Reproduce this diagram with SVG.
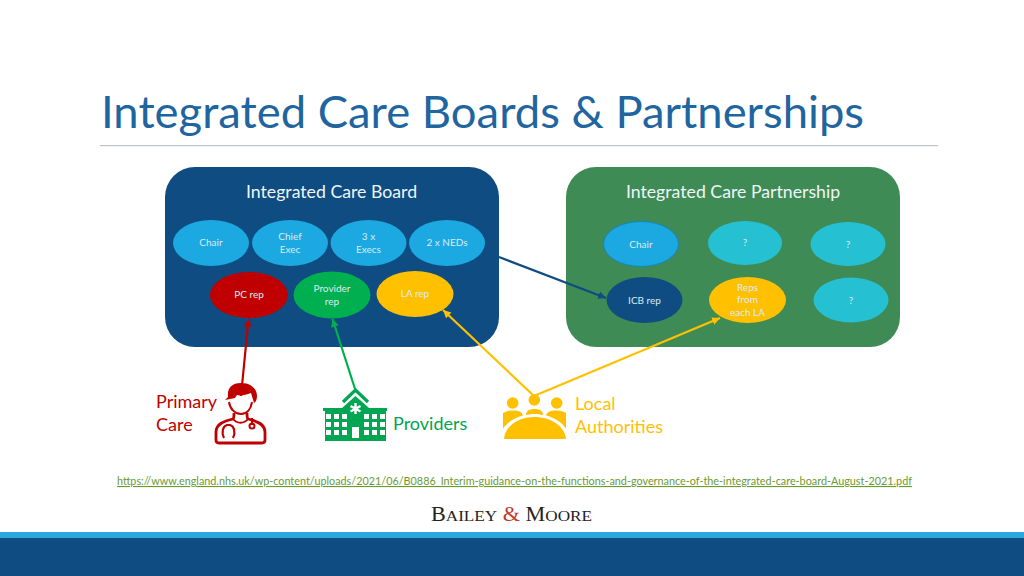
<svg xmlns="http://www.w3.org/2000/svg" width="1024" height="576" viewBox="0 0 1024 576">
<style>
text{font-family:"Lato","Open Sans","Liberation Sans",sans-serif}
.n{font-size:10px;fill:#dcebf2;text-anchor:middle}
.h{font-size:17.700px;fill:#eef6f8;text-anchor:middle}
.l{font-size:18px}
.c{fill:none;stroke-width:2.200}
.sky{fill:#1CA8E0}.teal{fill:#25C1D3}
</style>
<defs>
<marker id="aNavy" markerWidth="4" markerHeight="4" refX="3.600" refY="1.800" orient="auto"><path d="M0 0L3.600 1.800L0 3.600z" fill="#0F4C81"/></marker>
<marker id="aRed" markerWidth="4" markerHeight="4" refX="3.600" refY="1.800" orient="auto"><path d="M0 0L3.600 1.800L0 3.600z" fill="#C00000"/></marker>
<marker id="aGreen" markerWidth="4" markerHeight="4" refX="3.600" refY="1.800" orient="auto"><path d="M0 0L3.600 1.800L0 3.600z" fill="#00B050"/></marker>
<marker id="aYellow" markerWidth="4" markerHeight="4" refX="3.600" refY="1.800" orient="auto"><path d="M0 0L3.600 1.800L0 3.600z" fill="#FFC000"/></marker>
</defs>
<rect width="1024" height="576" fill="#fff"/>
<text id="title" x="101" y="128" font-size="45" fill="#1F659F" textLength="763" lengthAdjust="spacingAndGlyphs">Integrated Care Boards &amp; Partnerships</text>
<rect x="100" y="145" width="838" height="1.200" fill="#BFC4C8"/>

<g id="icb-panel"><rect x="165" y="167" width="334" height="180" rx="30" fill="#0F4C81"/><text class="h" x="331.500" y="198">Integrated Care Board</text></g>
<g id="icp-panel"><rect x="566" y="167" width="334" height="180" rx="30" fill="#3F8B55"/><text class="h" x="733" y="198">Integrated Care Partnership</text></g>

<g id="icb-chair"><ellipse class="sky" cx="211" cy="243" rx="38" ry="23"/><text class="n" x="211" y="246">Chair</text></g>
<g id="icb-exec"><ellipse class="sky" cx="290" cy="243" rx="38" ry="23"/><text class="n" x="290" y="240">Chief</text><text class="n" x="290" y="253">Exec</text></g>
<g id="icb-execs"><ellipse class="sky" cx="368.500" cy="243" rx="38" ry="23"/><text class="n" x="368.500" y="240">3 x</text><text class="n" x="368.500" y="253">Execs</text></g>
<g id="icb-neds"><ellipse class="sky" cx="447" cy="243" rx="38" ry="23"/><text class="n" x="447" y="246">2 x NEDs</text></g>
<g id="pc-rep"><ellipse cx="249" cy="295" rx="39" ry="23" fill="#C00000"/><text class="n" x="249" y="298">PC rep</text></g>
<g id="provider-rep"><ellipse cx="332" cy="295" rx="38.500" ry="23.500" fill="#00B050"/><text class="n" x="332" y="292">Provider</text><text class="n" x="332" y="305">rep</text></g>
<g id="la-rep"><ellipse cx="415" cy="294" rx="38.500" ry="23" fill="#FFC000"/><text class="n" x="415" y="297">LA rep</text></g>

<g id="icp-chair"><ellipse class="sky" cx="641" cy="244" rx="37.500" ry="22.500" stroke="#1585BE"/><text class="n" x="641" y="248">Chair</text></g>
<g id="icp-q1"><ellipse class="teal" cx="745" cy="243" rx="37" ry="22"/><text class="n" x="745" y="246">?</text></g>
<g id="icp-q2"><ellipse class="teal" cx="848" cy="244" rx="37.500" ry="22"/><text class="n" x="848" y="248">?</text></g>
<g id="icb-rep"><ellipse cx="644.500" cy="300" rx="38" ry="23" fill="#0F4C81"/><text class="n" x="644.500" y="304">ICB rep</text></g>
<g id="la-reps"><ellipse cx="747.500" cy="300" rx="38.500" ry="23" fill="#FFC000"/><text class="n" x="747.500" y="291">Reps</text><text class="n" x="747.500" y="303">from</text><text class="n" x="747.500" y="316">each LA</text></g>
<g id="icp-q3"><ellipse class="teal" cx="851" cy="300" rx="37.500" ry="22.500"/><text class="n" x="851" y="304">?</text></g>

<g id="connectors">
<path class="c" stroke="#0F4C81" marker-end="url(#aNavy)" d="M499 257L606 298"/>
<path class="c" stroke="#C00000" marker-end="url(#aRed)" d="M241 396L248.500 319"/>
<path class="c" stroke="#00B050" marker-end="url(#aGreen)" d="M356 392L332.500 319"/>
<path class="c" stroke="#FFC000" marker-end="url(#aYellow)" d="M534 396L443 310"/>
<path class="c" stroke="#FFC000" marker-end="url(#aYellow)" d="M534 396L720 318"/>
</g>

<g id="primary-care">
<text class="l" x="156" y="408" fill="#C00000">Primary</text><text class="l" x="156" y="431" fill="#C00000">Care</text>
<path d="M241 383c10 0 16 6 16 13c0 3-1 6-3 7l-3-10c-5 2-11 3-14 2l-2 3l-10 2l3-3c-1-8 3-14 13-14z" fill="#C00000"/>
<path d="M229 402c1 7 6 12 12 12s10-5 11-12" fill="none" stroke="#C00000" stroke-width="2"/>
<path d="M234 413c0 3 0 5-1 6c-9 2-17 5-17 13v8c0 2 1 3 3 3h43c2 0 3-1 3-3v-8c0-8-8-11-17-13c-1-1-1-3-1-6" fill="none" stroke="#C00000" stroke-width="2.800"/>
<path d="M233 419c4 5 11 5 15 0" fill="none" stroke="#C00000" stroke-width="2"/>
<path d="M224 438c-3-6-1-12 3-13h3c4 1 6 7 3 13" fill="none" stroke="#C00000" stroke-width="2.200"/>
<path d="M252 418v7" stroke="#C00000" stroke-width="2"/><circle cx="252" cy="426" r="2.500" fill="none" stroke="#C00000" stroke-width="2"/>
</g>

<g id="providers">
<text class="l" x="393" y="430" fill="#00A651">Providers</text>
<path d="M343 402L355.500 390L368 402" fill="none" stroke="#00A651" stroke-width="3.200"/>
<path fill="#00A651" fill-rule="evenodd" d="M355.500 396L369 408H387V411H386V441H325V411H323V408H342z
M326 414h5v5h-5zM334 414h5v5h-5zM342 414h5v5h-5zM364 414h5v5h-5zM372 414h5v5h-5zM380 414h5v5h-5z
M326 422h5v5h-5zM334 422h5v5h-5zM342 422h5v5h-5zM364 422h5v5h-5zM372 422h5v5h-5zM380 422h5v5h-5z
M326 430h5v5h-5zM334 430h5v5h-5zM342 430h5v5h-5zM364 430h5v5h-5zM372 430h5v5h-5zM380 430h5v5h-5z
M352 427h7v11h-7z"/>
<path d="M355.500 403v11M350.500 406l10 5.500M360.500 406l-10 5.500" stroke="#fff" stroke-width="2.400"/>
</g>

<g id="local-authorities" fill="#FFC000">
<text class="l" x="575" y="410">Local</text><text class="l" x="575" y="433">Authorities</text>
<circle cx="512.700" cy="403" r="5.800"/><circle cx="534.300" cy="400" r="5.800"/><circle cx="556.700" cy="403" r="5.800"/>
<path d="M503 413c3-2 7-2.500 10-2.500c5 0 9 1 10 5c-8 2-15 6-20 13z"/>
<path d="M526 415c0-4 3-6 8.500-6s8.500 2 8.500 6c-5-1.500-12-1.500-17 0z"/>
<path d="M566 413c-3-2-7-2.500-10-2.500c-5 0-9 1-10 5c8 2 15 6 20 13z"/>
<path d="M504 439c1-13 14-22 30.500-22s30 9 31.500 22z"/>
</g>

<text id="link" x="117" y="485" font-size="11" fill="#6A9A2F" text-decoration="underline" textLength="795" lengthAdjust="spacingAndGlyphs">https://www.england.nhs.uk/wp-content/uploads/2021/06/B0886_Interim-guidance-on-the-functions-and-governance-of-the-integrated-care-board-August-2021.pdf</text>

<g id="logo"><text x="431" y="521" style="font-family:'Liberation Serif',serif" font-size="20" fill="#222" textLength="161" lengthAdjust="spacingAndGlyphs">B<tspan font-size="15.500">AILEY</tspan> <tspan fill="#C0392B">&amp;</tspan> M<tspan font-size="15.500">OORE</tspan></text></g>

<rect y="532" width="1024" height="6" fill="#29A9E0"/>
<rect y="538" width="1024" height="38" fill="#0F4C81"/>
</svg>
